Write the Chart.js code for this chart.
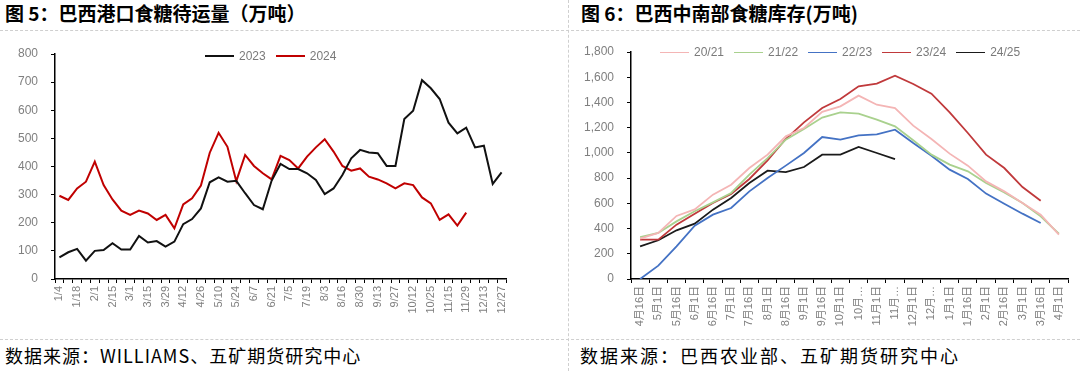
<!DOCTYPE html>
<html>
<head>
<meta charset="utf-8">
<script src="https://cdn.jsdelivr.net/npm/chart.js@4.4.1/dist/chart.umd.min.js"></script>
<style>
  body { margin: 0; width: 1080px; height: 371px; background: #fff; position: relative; overflow: hidden;
         font-family: "Noto Sans CJK SC", sans-serif; }
  .title { position: absolute; top: 0px; font-size: 19px; font-weight: bold; color: #000; line-height: 26px; }
  .src { position: absolute; top: 342px; font-size: 18px; color: #000; line-height: 26px; }
  .hline { position: absolute; left: 0; width: 1080px; border-top: 1px dashed #cfcfcf; }
  .vline { position: absolute; top: 0; left: 568px; height: 371px; border-left: 1px dashed #cfcfcf; }
  canvas { position: absolute; top: 0; }
  .legend { position: absolute; display: flex; font-family: "Liberation Sans", Arial, sans-serif; font-size: 12px; color: #7a7a7a; }
  .legend .item { display: flex; align-items: center; margin-right: 10px; }
  .legend .swatch { display: inline-block; width: 29px; height: 0; margin-right: 5px; }
</style>
</head>
<body>
<div class="title" style="left:5px">图 5：巴西港口食糖待运量（万吨）</div>
<div class="title" style="left:581px">图 6：巴西中南部食糖库存(万吨)</div>
<div class="hline" style="top:30px"></div>
<div class="hline" style="top:339px"></div>
<div class="vline"></div>
<canvas id="portChart" width="540" height="340" style="left:0"></canvas>
<canvas id="stockChart" width="510" height="340" style="left:570px"></canvas>
<div class="legend" id="portLegend" style="left:205px; top:49px"></div>
<div class="legend" id="stockLegend" style="left:660px; top:45px"></div>
<div class="src" style="left:5px; letter-spacing:1px">数据来源：WILLIAMS、五矿期货研究中心</div>
<div class="src" style="left:580px; letter-spacing:2px">数据来源：巴西农业部、五矿期货研究中心</div>

<script>
// fig 5: weekly port line-up, every other week is labelled
var portTickLabels = ['1/4', '1/18', '2/1', '2/15', '3/1', '3/15', '3/29', '4/12', '4/26', '5/10',
  '5/24', '6/7', '6/21', '7/5', '7/19', '8/3', '8/16', '8/30', '9/13', '9/27',
  '10/12', '10/25', '11/15', '11/29', '12/13', '12/27'];
var port2023 = [77, 95, 107, 65, 100, 103, 127, 105, 105, 153, 130, 135, 115, 133, 195, 213, 251, 344,
  361, 346, 349, 305, 263, 248, 350, 409, 391, 391, 376, 352, 302, 322, 370, 429, 459, 450, 447,
  402, 402, 569, 598, 707, 678, 640, 556, 518, 538, 468, 474, 338, 379];
var port2024 = [296, 281, 322, 346, 417, 334, 283, 243, 228, 243, 233, 210, 228, 180, 265, 287, 332,
  449, 520, 470, 348, 441, 402, 376, 354, 438, 423, 393, 435, 468, 497, 453, 402, 385, 393, 364,
  354, 340, 322, 340, 334, 290, 269, 210, 230, 190, 236];

// fig 6: centre-south stocks by half month
var stockLabels = ['4月16日', '5月1日', '5月16日', '6月1日', '6月16日', '7月1日', '7月16日', '8月1日',
  '8月16日', '9月1日', '9月16日', '10月1日', '10月16日', '11月1日', '11月16日', '12月1日', '12月16日',
  '1月1日', '1月16日', '2月1日', '2月16日', '3月1日', '3月16日', '4月1日'];
var stock2021 = [320, 365, 500, 552, 669, 748, 880, 986, 1131, 1197, 1325, 1369, 1454, 1382, 1356, 1216,
  1110, 994, 899, 774, 695, 603, 510, 352];
var stock2122 = [333, 365, 457, 537, 608, 682, 827, 959, 1105, 1189, 1280, 1321, 1311, 1263, 1210, 1100,
  986, 907, 854, 761, 687, 603, 497, 359];
var stock2223 = [0, 106, 259, 423, 510, 563, 695, 801, 899, 999, 1126, 1105, 1139, 1147, 1184, 1078,
  978, 867, 793, 677, 597, 518, 444];
var stock2324 = [312, 312, 431, 518, 603, 674, 793, 941, 1110, 1242, 1356, 1427, 1528, 1549, 1612, 1546,
  1469, 1321, 1158, 986, 880, 729, 621];
var stock2425 = [259, 307, 386, 439, 550, 642, 761, 859, 848, 888, 986, 986, 1047, 999, 951];

var tickFont = "'Liberation Sans', Arial, 'Noto Sans CJK SC', sans-serif";
var tickGray = '#7f7f7f';

// 51 weekly categories, label only on even weeks
var portLabels = [];
for (var i = 0; i < 51; i++) {
  portLabels.push(i % 2 === 0 ? portTickLabels[i / 2] : '');
}

function lineSet(label, values, color, width) {
  return {
    label: label,
    data: values,
    borderColor: color,
    backgroundColor: color,
    borderWidth: width,
    pointRadius: 0,
    tension: 0,
    fill: false
  };
}

function xAxis(callback) {
  return {
    offset: true,
    grid: { offset: true, drawOnChartArea: false, drawTicks: true, tickLength: 4, color: '#000', lineWidth: 1 },
    border: { color: '#000', width: 1.5 },
    ticks: {
      autoSkip: false, maxRotation: 90, minRotation: 90, padding: 3,
      color: tickGray, font: { size: 11, family: tickFont },
      callback: callback
    },
    afterFit: function (s) { s.height = 55; }
  };
}

function yAxis(max, step, width, fmt) {
  return {
    min: 0, max: max,
    grid: { drawOnChartArea: false, drawTicks: true, tickLength: 4, color: '#000', lineWidth: 1 },
    border: { color: '#000', width: 1.5 },
    ticks: { stepSize: step, padding: 13, color: tickGray, font: { size: 12, family: tickFont }, callback: fmt },
    afterFit: function (s) { s.width = width; }
  };
}

function addLegend(id, sets) {
  var el = document.getElementById(id);
  sets.forEach(function (s) {
    var item = document.createElement('span');
    item.className = 'item';
    item.innerHTML = '<span class="swatch" style="border-top:' + s.borderWidth + 'px solid ' + s.borderColor + '"></span>' + s.label;
    el.appendChild(item);
  });
}

var portSets = [
  lineSet('2023', port2023, '#111111', 2),
  lineSet('2024', port2024, '#c00000', 2)
];
new Chart(document.getElementById('portChart'), {
  type: 'line',
  data: { labels: portLabels, datasets: portSets },
  options: {
    responsive: false,
    animation: false,
    layout: { padding: { top: 54, right: 34, bottom: 6, left: 0 } },
    plugins: { legend: { display: false }, tooltip: { enabled: false } },
    scales: {
      x: xAxis(function (v) { return this.getLabelForValue(v); }),
      y: yAxis(800, 100, 55)
    }
  }
});
addLegend('portLegend', portSets);

var stockSets = [
  lineSet('20/21', stock2021, '#f4b5b5', 1.8),
  lineSet('21/22', stock2122, '#a9d18e', 1.8),
  lineSet('22/23', stock2223, '#4472c4', 1.8),
  lineSet('23/24', stock2324, '#c0393b', 1.8),
  lineSet('24/25', stock2425, '#1a1a1a', 1.8)
];
new Chart(document.getElementById('stockChart'), {
  type: 'line',
  data: { labels: stockLabels, datasets: stockSets },
  options: {
    responsive: false,
    animation: false,
    layout: { padding: { top: 52, right: 12, bottom: 6, left: 0 } },
    plugins: { legend: { display: false }, tooltip: { enabled: false } },
    scales: {
      // long labels get cut short like in the source sheet
      x: xAxis(function (v) {
        var s = this.getLabelForValue(v);
        return s.length > 5 ? s.slice(0, 3) + '…' : s;
      }),
      y: yAxis(1800, 200, 61, function (v) { return v.toLocaleString('en-US'); })
    }
  }
});
addLegend('stockLegend', stockSets);
</script>
</body>
</html>
